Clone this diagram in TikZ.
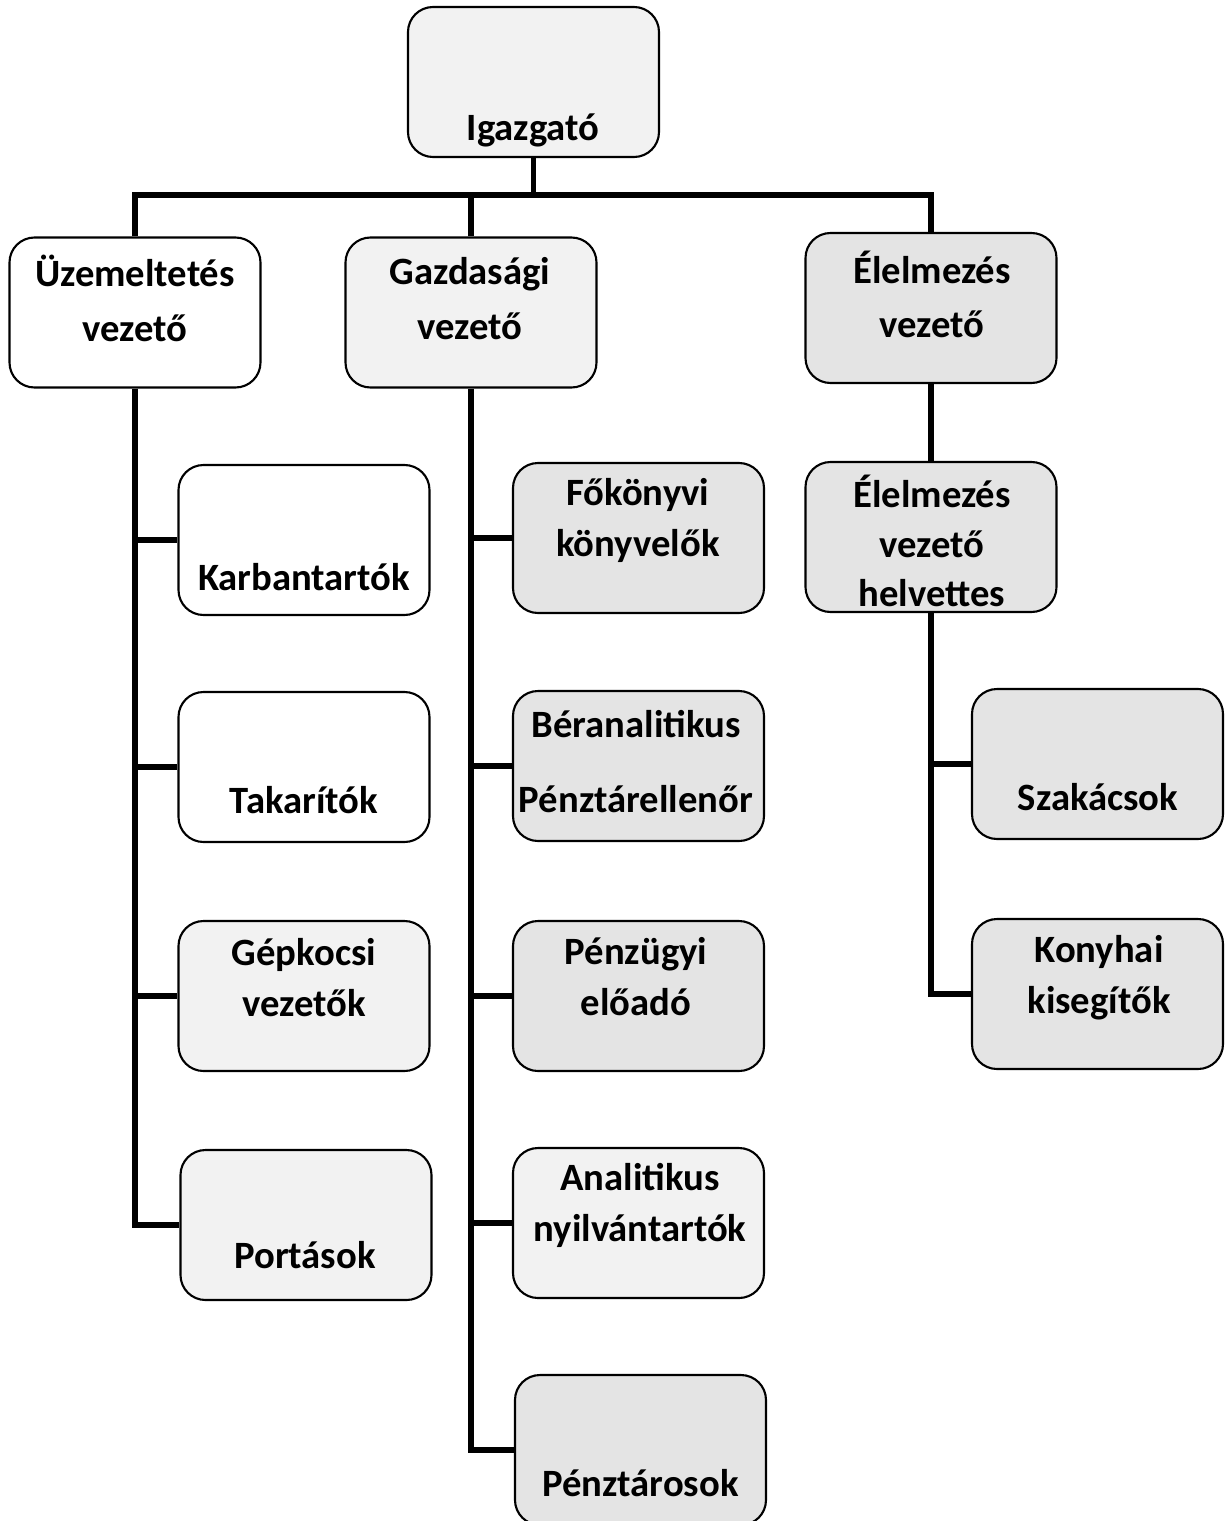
\documentclass[tikz,border=0pt]{standalone}
\usepackage{fontspec}
\setmainfont{Carlito}
\definecolor{paleshade}{RGB}{242,242,242}
\definecolor{softshade}{RGB}{228,228,228}
\tikzset{
  orgbox/.style={draw,line width=1.2pt,rounded corners=0.5cm,minimum width=5.02cm,minimum height=3cm,fill=white},
  orgtext/.style={align=center,font=\fontsize{22}{29}\selectfont\bfseries},
  conn/.style={line width=3.4pt}
}

\begin{document}
\begin{tikzpicture}
\useasboundingbox (0,0) rectangle (24.5,-30.42);
\clip (0,0) rectangle (24.5,-30.42);

% boxes
\node[orgbox,fill=paleshade] (igazgato) at (10.67,-1.64) {};

\node[orgbox] (uzem) at (2.70,-6.25) {};
\node[orgbox,fill=paleshade] (gazd) at (9.42,-6.25) {};
\node[orgbox,fill=softshade] (elelm) at (18.62,-6.16) {};

\node[orgbox] (karban) at (6.08,-10.80) {};
\node[orgbox] (takar) at (6.08,-15.34) {};
\node[orgbox,fill=paleshade] (gepk) at (6.08,-19.92) {};
\node[orgbox,fill=paleshade] (portas) at (6.12,-24.50) {};

\node[orgbox,fill=softshade] (fokonyv) at (12.77,-10.76) {};
\node[orgbox,fill=softshade] (beran) at (12.77,-15.32) {};
\node[orgbox,fill=softshade] (penzugy) at (12.77,-19.92) {};
\node[orgbox,fill=paleshade] (analit) at (12.77,-24.46) {};
\node[orgbox,fill=softshade] (penztar) at (12.81,-29.00) {};

\node[orgbox,fill=softshade] (helyettes) at (18.62,-10.74) {};
\node[orgbox,fill=softshade] (szakacs) at (21.95,-15.28) {};
\node[orgbox,fill=softshade] (konyhai) at (21.95,-19.88) {};

% texts
\node[orgtext] (igazgatoT) at (10.66,-2.60) {Igazgató};
\node[orgtext] (uzemT) at (2.70,-5.97) {Üzemeltetés\\[2pt]vezető};
\node[orgtext] (gazdT) at (9.40,-5.97) {Gazdasági\\[2pt]vezető};
\node[orgtext] (elelmT) at (18.64,-5.89) {Élelmezés\\[2pt]vezető};

\node[orgtext] (karbanT) at (6.08,-11.54) {Karbantartók};
\node[orgtext] (takarT) at (6.08,-16.00) {Takarítók};
\node[orgtext] (gepkT) at (6.08,-19.55) {Gépkocsi\\vezetők};
\node[orgtext] (portasT) at (6.10,-25.10) {Portások};

\node[orgtext] (fokonyvT) at (12.76,-10.40) {Főkönyvi\\könyvelők};
\node[orgtext] (beranT) at (12.72,-15.23) {Béranalitikus\\[14pt]Pénztárellenőr};
\node[orgtext] (penzugyT) at (12.72,-19.54) {Pénzügyi\\előadó};
\node[orgtext] (analitT) at (12.80,-24.10) {Analitikus\\nyilvántartók};
\node[orgtext] (penztarT) at (12.81,-29.66) {Pénztárosok};

\node[orgtext] (helyettesT) at (18.64,-10.82) {Élelmezés\\[-1pt]vezető\\[-1pt]helvettes};
\node[orgtext] (szakacsT) at (21.96,-15.94) {Szakácsok};
\node[orgtext] (konyhaiT) at (21.98,-19.56) {Konyhai\\kisegítők};

% connectors
\coordinate (bar) at (0,-3.90);
\draw[conn] (igazgato.south) -- (igazgato.south |- bar);
\draw[conn] (uzem.north) |- (elelm.north |- bar) -- (elelm.north);
\draw[conn] (gazd.north) -- (gazd.north |- bar);

\draw[conn] (uzem.south) |- (portas.west);
\draw[conn] (uzem.south |- karban.west) -- (karban.west);
\draw[conn] (uzem.south |- takar.west) -- (takar.west);
\draw[conn] (uzem.south |- gepk.west) -- (gepk.west);

\draw[conn] (gazd.south) |- (penztar.west);
\draw[conn] (gazd.south |- fokonyv.west) -- (fokonyv.west);
\draw[conn] (gazd.south |- beran.west) -- (beran.west);
\draw[conn] (gazd.south |- penzugy.west) -- (penzugy.west);
\draw[conn] (gazd.south |- analit.west) -- (analit.west);

\draw[conn] (elelm.south) -- (helyettes.north);
\draw[conn] (helyettes.south) |- (konyhai.west);
\draw[conn] (helyettes.south |- szakacs.west) -- (szakacs.west);
\end{tikzpicture}
\end{document}
